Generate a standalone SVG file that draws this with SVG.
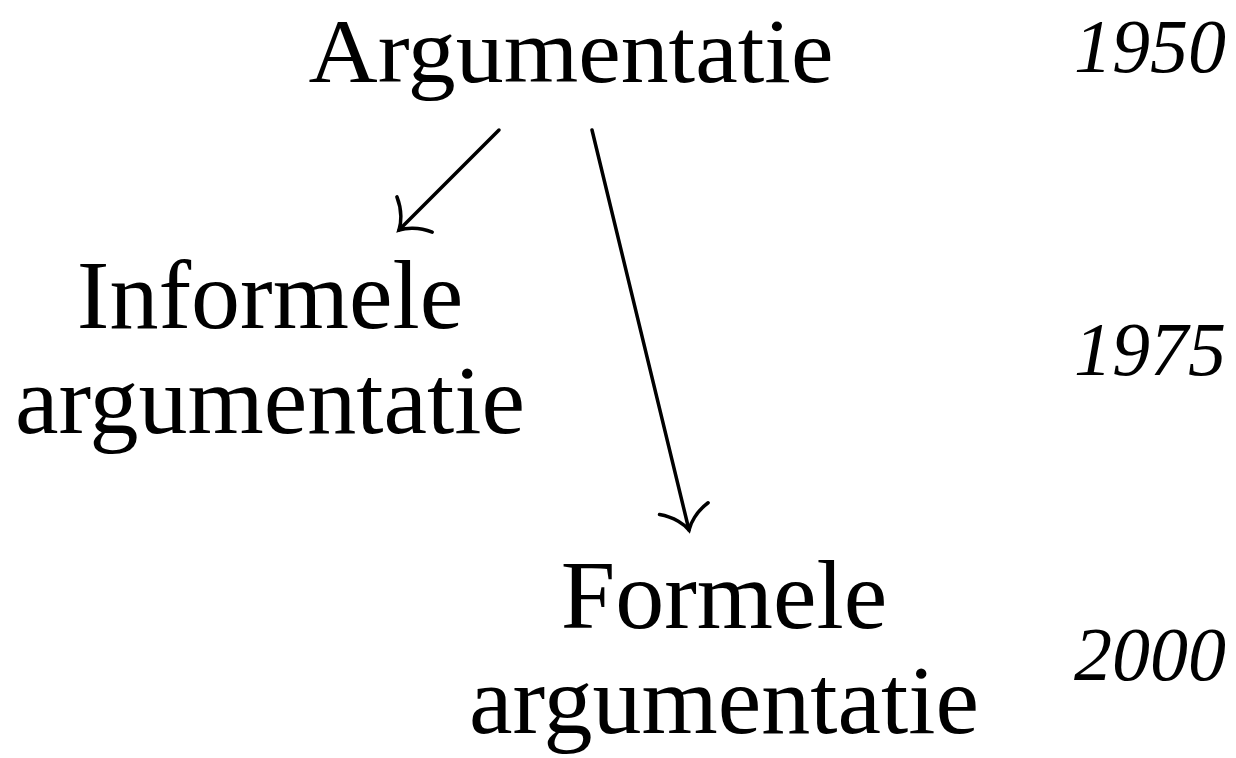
<svg xmlns="http://www.w3.org/2000/svg" width="1236" height="758" viewBox="0 0 1236 758">
<style>
.lbl{font-family:"Liberation Serif","DejaVu Serif",serif;font-size:98px;fill:#000;text-anchor:middle}
.yr{font-family:"Liberation Serif","DejaVu Serif",serif;font-style:italic;font-size:76px;fill:#000;text-anchor:end}
.edge{stroke:#000;stroke-width:3.5;fill:none;stroke-linecap:round}
</style>
<defs>
<marker id="arr" markerUnits="userSpaceOnUse" viewBox="-30 -30 40 60" markerWidth="40" markerHeight="60" refX="0" refY="0" orient="auto" overflow="visible">
<path d="M -22,-25 C -16,-11 -6,-3 0,0 C -6,3 -16,11 -22,25" fill="none" stroke="#000" stroke-width="3.5" stroke-linecap="round"/>
</marker>
</defs>
<rect width="1236" height="758" fill="#fff"/>
<g id="n-argumentatie"><text class="lbl" x="571" y="82" style="font-size:92px" textLength="525" lengthAdjust="spacingAndGlyphs">Argumentatie</text></g>
<g id="n-informele"><text class="lbl" x="270" y="328">Informele</text><text class="lbl" x="270" y="433">argumentatie</text></g>
<g id="n-formele"><text class="lbl" x="724" y="628">Formele</text><text class="lbl" x="724" y="733">argumentatie</text></g>
<g id="years">
<text class="yr" x="1226" y="72">1950</text>
<text class="yr" x="1226" y="375">1975</text>
<text class="yr" x="1226" y="680">2000</text>
</g>
<g id="connectors">
<line class="edge" x1="499" y1="130" x2="399" y2="230" marker-end="url(#arr)"/>
<line class="edge" x1="592" y1="130" x2="689" y2="530" marker-end="url(#arr)"/>
</g>
</svg>
